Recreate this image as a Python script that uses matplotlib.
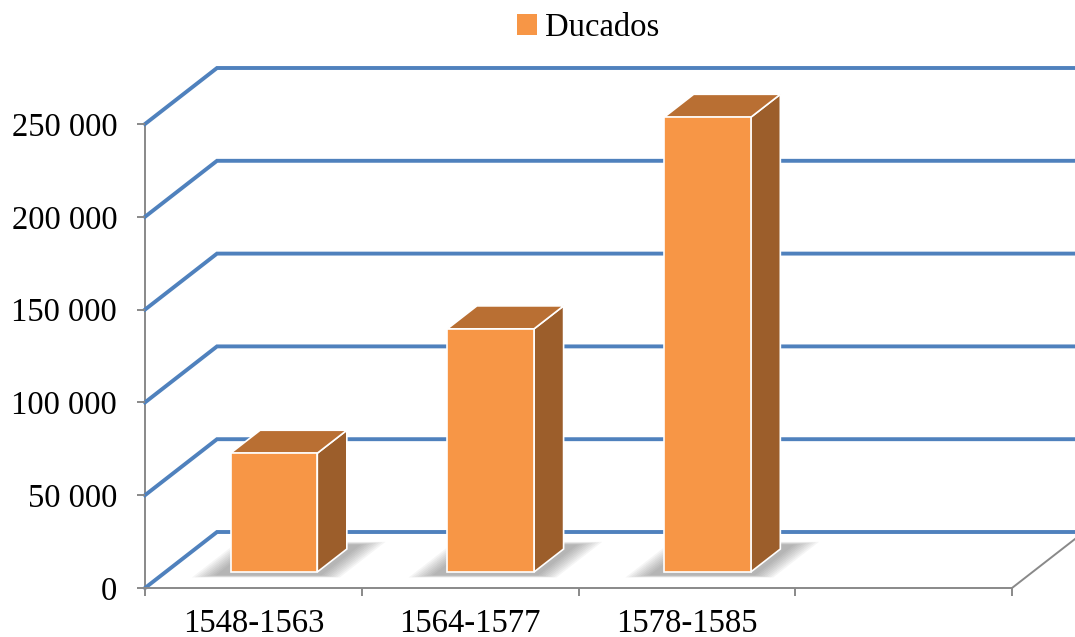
import matplotlib.pyplot as plt
from matplotlib.patches import Polygon, Patch

# data
periods = ['1548-1563', '1564-1577', '1578-1585', '']
ducados = [64000, 131000, 245000]
y_ticks = [0, 50000, 100000, 150000, 200000, 250000]

# colours
BLUE = '#4F81BD'
GREY = '#898989'
FRONT = '#F79646'
SIDE = '#9C5E2B'
TOP = '#B96F33'

# fake 3d depth vector, in data units
DX = 72 / 216.75
DY = 56 / (464 / 250000)
F0, F1 = 0.286, 0.696
W = 0.4


def proj(x, v, d):
    return (x + d * DX, v + d * DY)


plt.rcParams['font.family'] = ['Liberation Serif', 'DejaVu Serif']

fig = plt.figure(figsize=(10.75, 6.37), dpi=100)
ax = fig.add_axes([145 / 1075, 49 / 637, 867 / 1075, 464 / 637])
ax.set_xlim(-0.5, 3.5)
ax.set_ylim(0, 250000)

# back wall gridlines + left wall diagonals
for v in y_ticks:
    x0, y0 = proj(-0.5, v, 0)
    x1, y1 = proj(-0.5, v, 1)
    x2, y2 = proj(3.5, v, 1)
    ax.plot([x0, x1, x2], [y0, y1, y2], color=BLUE, lw=2.8,
            solid_joinstyle='miter', clip_on=False, zorder=1)

# floor right edge
xa, ya = proj(3.5, 0, 0)
xb, yb = proj(3.5, 0, 1)
ax.plot([xa, xb], [ya, yb], color=GREY, lw=1.4, clip_on=False, zorder=1)

# bars
for i, val in enumerate(ducados):
    l, r = i - W / 2, i + W / 2
    # soft shadow on the floor
    for k in range(9):
        e = 0.012 * k
        sh = [proj(l - 0.05 - e, 0, F0 - 0.06 - e * 0.4),
              proj(r + 0.04 + e, 0, F0 - 0.06 - e * 0.4),
              proj(r + 0.04 + e, 0, F1 + 0.08 + e * 0.5),
              proj(l - 0.05 - e, 0, F1 + 0.08 + e * 0.5)]
        ax.add_patch(Polygon(sh, closed=True, facecolor='#505050',
                             alpha=0.055, edgecolor='none', zorder=2, clip_on=False))
    front = [proj(l, 0, F0), proj(r, 0, F0), proj(r, val, F0), proj(l, val, F0)]
    side = [proj(r, 0, F0), proj(r, 0, F1), proj(r, val, F1), proj(r, val, F0)]
    top = [proj(l, val, F0), proj(r, val, F0), proj(r, val, F1), proj(l, val, F1)]
    for pts, c in [(side, SIDE), (top, TOP), (front, FRONT)]:
        ax.add_patch(Polygon(pts, closed=True, facecolor=c, edgecolor='white',
                             lw=1.2, joinstyle='miter', zorder=3, clip_on=False))

# axes styling
for s in ['top', 'right']:
    ax.spines[s].set_visible(False)
for s in ['left', 'bottom']:
    ax.spines[s].set_color(GREY)
    ax.spines[s].set_linewidth(1.4)
ax.spines['left'].set_zorder(0)

ax.set_yticks(y_ticks)
ax.set_yticklabels(['{:,}'.format(v).replace(',', ' ') for v in y_ticks])
ax.set_xticks([-0.5, 0.5, 1.5, 2.5, 3.5])
ax.set_xticklabels([])
ax.set_xticks([0, 1, 2, 3], minor=True)
ax.set_xticklabels(periods, minor=True)
ax.tick_params(axis='y', length=6, width=1.4, color=GREY, pad=14, labelsize=23.5)
ax.tick_params(axis='x', which='major', length=6, width=1.4, color=GREY)
ax.tick_params(axis='x', which='minor', length=0, pad=14.5, labelsize=23.5)
ax.patch.set_visible(False)

fig.legend(handles=[Patch(facecolor=FRONT, label='Ducados')], loc='center',
           bbox_to_anchor=(588 / 1075, 1 - 28 / 637), frameon=False,
           fontsize=23.5, handlelength=0.6, handleheight=0.6, handletextpad=0.25)

fig.savefig('out.png', dpi=100)
